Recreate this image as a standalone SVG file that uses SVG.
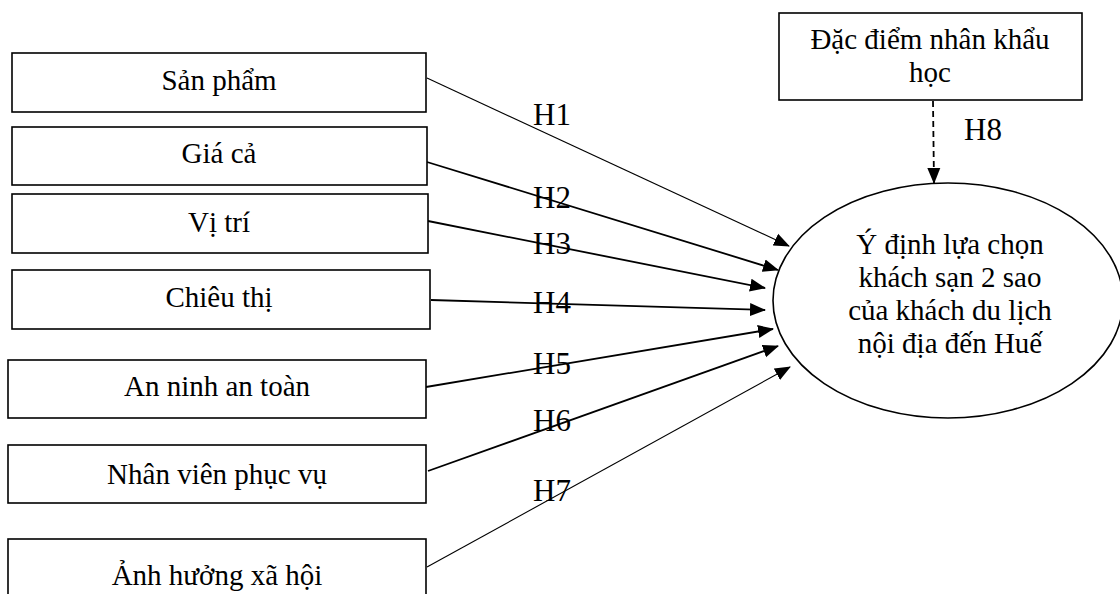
<svg xmlns="http://www.w3.org/2000/svg" width="1120" height="594" viewBox="0 0 1120 594">
<style>
.box{fill:#fff;stroke:#000;stroke-width:1.6}
.t{font-family:"Liberation Serif","Times New Roman",serif;font-size:29px;fill:#000;text-anchor:middle}
.h{font-family:"Liberation Serif","Times New Roman",serif;font-size:31px;fill:#000}
.c{stroke:#000;stroke-width:1.8;fill:none}
.thin{stroke-width:1.1}
</style>
<defs>
<marker id="ah" markerUnits="userSpaceOnUse" markerWidth="16" markerHeight="14" refX="15" refY="6.5" orient="auto" viewBox="0 0 16 13">
<path d="M0,0 L16,6.5 L0,13 Z" fill="#000"/>
</marker>
</defs>
<rect width="1120" height="594" fill="#fff"/>
<g id="connectors">
<line class="c thin" x1="427" y1="78" x2="789" y2="246" marker-end="url(#ah)"/>
<line class="c" x1="427" y1="162" x2="778" y2="270" marker-end="url(#ah)"/>
<line class="c" x1="428" y1="221" x2="765" y2="288" marker-end="url(#ah)"/>
<line class="c" x1="431" y1="300" x2="765" y2="310" marker-end="url(#ah)"/>
<line class="c" x1="426" y1="387" x2="773" y2="329" marker-end="url(#ah)"/>
<line class="c" x1="428" y1="471" x2="778" y2="346" marker-end="url(#ah)"/>
<line class="c thin" x1="427" y1="567" x2="790" y2="367" marker-end="url(#ah)"/>
<line class="c" x1="933" y1="101" x2="934" y2="183" stroke-width="1.4" stroke-dasharray="6,4" marker-end="url(#ah)"/>
<text class="h" x="533" y="125">H1</text>
<text class="h" x="533" y="208">H2</text>
<text class="h" x="533" y="254">H3</text>
<text class="h" x="533" y="313">H4</text>
<text class="h" x="533" y="374">H5</text>
<text class="h" x="533" y="431">H6</text>
<text class="h" x="533" y="501">H7</text>
<text class="h" x="964" y="140">H8</text>
</g>
<g id="n1"><rect class="box" x="12" y="53" width="414" height="59"/><text class="t" x="219" y="90">Sản phẩm</text></g>
<g id="n2"><rect class="box" x="12" y="127" width="415" height="58"/><text class="t" x="219" y="163">Giá cả</text></g>
<g id="n3"><rect class="box" x="12" y="194" width="416" height="59"/><text class="t" x="219" y="232">Vị trí</text></g>
<g id="n4"><rect class="box" x="12" y="270" width="418" height="59"/><text class="t" x="219" y="307">Chiêu thị</text></g>
<g id="n5"><rect class="box" x="8" y="360" width="418" height="58"/><text class="t" x="217" y="396">An ninh an toàn</text></g>
<g id="n6"><rect class="box" x="8" y="445" width="418" height="58"/><text class="t" x="217" y="484">Nhân viên phục vụ</text></g>
<g id="n7"><rect class="box" x="8" y="539" width="418" height="70"/><text class="t" x="217" y="585">Ảnh hưởng xã hội</text></g>
<g id="n8"><rect class="box" x="779" y="13" width="303" height="87"/><text class="t" x="930" y="49">Đặc điểm nhân khẩu</text><text class="t" x="930" y="82">học</text></g>
<g id="n9"><ellipse cx="948" cy="300.5" rx="175" ry="117.5" fill="#fff" stroke="#000" stroke-width="1.6"/>
<text class="t" x="950" y="254">Ý định lựa chọn</text>
<text class="t" x="950" y="287">khách sạn 2 sao</text>
<text class="t" x="950" y="320">của khách du lịch</text>
<text class="t" x="950" y="353">nội địa đến Huế</text></g>
</svg>
